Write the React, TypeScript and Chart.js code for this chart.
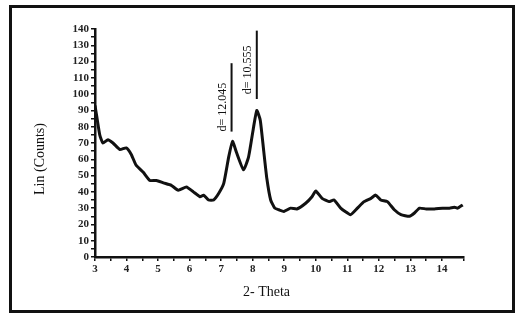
import React, { useEffect, useRef } from "react";
import { Chart, registerables } from "chart.js";

Chart.register(...registerables);

// 2-Theta positions and Lin (Counts) values
const thetaValues = [3, 3.05, 3.15, 3.25, 3.41, 3.57, 3.79, 3.99, 4.15, 4.3, 4.53, 4.74, 4.95, 5.17, 5.42, 5.64, 5.9, 6.12, 6.33, 6.44, 6.6, 6.76, 6.92, 7.08, 7.24, 7.36, 7.49, 7.71, 7.87, 8.03, 8.13, 8.24, 8.35, 8.45, 8.57, 8.7, 8.83, 8.99, 9.2, 9.4, 9.68, 9.88, 10.0, 10.2, 10.42, 10.58, 10.79, 11.1, 11.32, 11.53, 11.75, 11.9, 12.06, 12.27, 12.49, 12.7, 12.97, 13.13, 13.29, 13.5, 13.76, 14.02, 14.24, 14.4, 14.5, 14.66];
const countValues = [93, 87, 75, 70, 72, 70, 66, 67, 63, 56.5, 52, 47, 47, 45.5, 44, 41, 43, 40, 37, 38, 35, 35, 39, 45, 61.5, 71, 64, 53.5, 61.5, 80, 90, 84, 65, 48, 35, 30, 29, 28, 30, 29.5, 33, 37, 40.5, 36, 34, 35, 30, 26, 30, 34, 36, 38, 35, 34, 29, 26, 25, 27, 30, 29.5, 29.5, 30, 30, 30.5, 30, 32];

// peak annotations
const annotationLabels = ["d= 12.045", "d= 10.555"];
const annotationTheta = [7.33, 8.13];
const annotationTop = [119, 139];
const annotationBottom = [77, 97];
const annotationTextStart = [77, 100];

const xMin = 3;
const xMax = 14.7;
const yMin = 0;
const yMax = 140;
const xTitle = "2- Theta";
const yTitle = "Lin (Counts)";

const FONT = "'Liberation Serif', 'Times New Roman', serif";

const overlayPlugin = {
  id: "overlay",
  afterDatasetsDraw(chart: any) {
    const { ctx, chartArea } = chart;
    const xs = chart.scales.x;
    const ys = chart.scales.y;
    ctx.save();
    ctx.strokeStyle = "#111";
    ctx.fillStyle = "#111";
    ctx.lineWidth = 2;
    for (let i = 0; i < annotationLabels.length; i++) {
      const px = xs.getPixelForValue(annotationTheta[i]);
      const top = ys.getPixelForValue(annotationTop[i]);
      const bot = ys.getPixelForValue(annotationBottom[i]);
      ctx.beginPath();
      ctx.moveTo(px, top);
      ctx.lineTo(px, bot);
      ctx.stroke();
      const ts = ys.getPixelForValue(annotationTextStart[i]);
      ctx.save();
      ctx.translate(px - 9, ts);
      ctx.rotate(-Math.PI / 2);
      ctx.font = `12px ${FONT}`;
      ctx.textAlign = "left";
      ctx.textBaseline = "middle";
      ctx.fillText(annotationLabels[i], 0, 0);
      ctx.restore();
    }
    // axis titles
    ctx.font = `14px ${FONT}`;
    ctx.textAlign = "center";
    ctx.textBaseline = "middle";
    ctx.fillText(xTitle, (chartArea.left + chartArea.right) / 2 - 13, chartArea.bottom + 35);
    ctx.save();
    ctx.translate(chartArea.left - 55, (chartArea.top + chartArea.bottom) / 2 + 16);
    ctx.rotate(-Math.PI / 2);
    ctx.fillText(yTitle, 0, 0);
    ctx.restore();
    ctx.restore();
  },
};

export default function App() {
  const ref = useRef<HTMLCanvasElement>(null);
  useEffect(() => {
    if (!ref.current) return;
    const data = thetaValues.map((t, i) => ({ x: t, y: countValues[i] }));
    const chart = new Chart(ref.current, {
      type: "line",
      data: {
        datasets: [
          {
            data,
            borderColor: "#111",
            borderWidth: 3,
            pointRadius: 0,
            tension: 0.15,
            fill: false,
          },
        ],
      },
      options: {
        animation: false,
        responsive: false,
        plugins: { legend: { display: false }, tooltip: { enabled: false } },
        layout: { padding: { top: 21, right: 48, left: 0, bottom: 0 } },
        scales: {
          x: {
            type: "linear",
            min: xMin,
            max: xMax,
            afterFit: (s: any) => {
              s.height = 53;
            },
            border: { display: true, color: "#111", width: 2.5 },
            grid: { display: true, drawOnChartArea: false, drawTicks: true, tickLength: 4, color: "#111", lineWidth: 1.5 },
            ticks: {
              stepSize: 0.5,
              autoSkip: false,
              maxRotation: 0,
              padding: 2,
              color: "#222",
              font: { family: FONT, size: 11, weight: "bold" },
              callback: (v: any) => (Number.isInteger(v) ? String(v) : ""),
            },
          },
          y: {
            min: yMin,
            max: yMax,
            afterFit: (s: any) => {
              s.width = 83;
            },
            border: { display: true, color: "#111", width: 2.5 },
            grid: { display: true, drawOnChartArea: false, drawTicks: true, tickLength: 4, color: "#111", lineWidth: 1.5 },
            ticks: {
              stepSize: 5,
              autoSkip: false,
              padding: 2,
              color: "#222",
              font: { family: FONT, size: 11, weight: "bold" },
              callback: (v: any) => (v % 10 === 0 ? String(v) : ""),
            },
          },
        },
      },
      plugins: [overlayPlugin],
    });
    return () => chart.destroy();
  }, []);

  return (
    <div style={{ position: "fixed", left: 0, top: 0, width: 521, height: 320, background: "#fff" }}>
      <div
        style={{
          position: "absolute",
          left: 9,
          top: 5,
          width: 506,
          height: 308,
          border: "3px solid #111",
          boxSizing: "border-box",
        }}
      >
        <canvas ref={ref} width={500} height={302} style={{ display: "block", width: 500, height: 302 }} />
      </div>
    </div>
  );
}
